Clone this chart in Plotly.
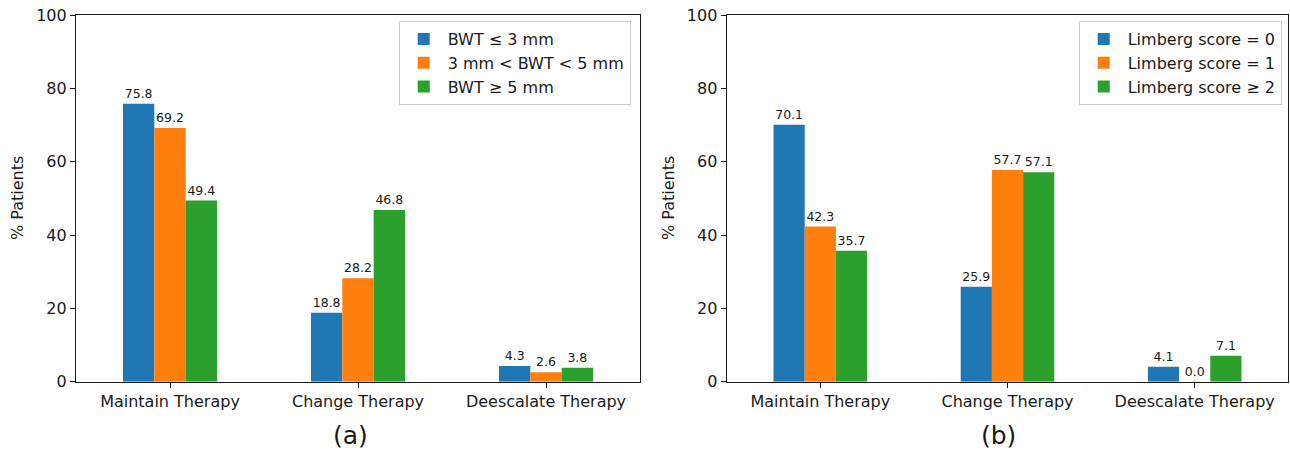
import plotly.graph_objects as go

categories = ["Maintain Therapy", "Change Therapy", "Deescalate Therapy"]

bwt_names = ["BWT ≤ 3 mm", "3 mm < BWT < 5 mm", "BWT ≥ 5 mm"]
bwt_le3 = [75.8, 18.8, 4.3]
bwt_3to5 = [69.2, 28.2, 2.6]
bwt_ge5 = [49.4, 46.8, 3.8]

limberg_names = ["Limberg score = 0", "Limberg score = 1", "Limberg score ≥ 2"]
limberg_0 = [70.1, 25.9, 4.1]
limberg_1 = [42.3, 57.7, 0.0]
limberg_ge2 = [35.7, 57.1, 7.1]

y_ticks = [0, 20, 40, 60, 80, 100]
colors = ["#1f77b4", "#ff7f0e", "#2ca02c"]

W, H = 1290, 452
FONT = "DejaVu Sans"
TXT = "#1a1a1a"

fig = go.Figure()

panels = [
    ("x", "y", "legend", bwt_names, [bwt_le3, bwt_3to5, bwt_ge5]),
    ("x2", "y2", "legend2", limberg_names, [limberg_0, limberg_1, limberg_ge2]),
]
for xa, ya, lg, names, series in panels:
    for i, (name, vals) in enumerate(zip(names, series)):
        fig.add_trace(go.Bar(
            x=list(range(len(categories))), y=vals, name=name,
            marker=dict(color=colors[i], line=dict(width=0)),
            xaxis=xa, yaxis=ya, legend=lg,
            legendgroup=f"{lg}_{i}",
            offsetgroup=str(i),
            text=[f"{v:.1f}" for v in vals],
            textposition="outside",
            textfont=dict(family=FONT, size=12.5, color=TXT),
            cliponaxis=False,
        ))

def px_x(p):
    return p / W

def px_y(p):
    return (H - p) / H

ydom = [px_y(381.7), px_y(15)]
axis_common = dict(
    showline=True, linecolor=TXT, linewidth=1.2, mirror=True,
    ticks="outside", ticklen=5, tickcolor=TXT, tickwidth=1.2,
    showgrid=False, zeroline=False,
    tickfont=dict(family=FONT, size=16, color=TXT),
)

legend_common = dict(
    xanchor="right", y=px_y(21), yanchor="top",
    bgcolor="rgba(255,255,255,0.8)", bordercolor="#cccccc", borderwidth=1,
    font=dict(family=FONT, size=16, color=TXT), tracegroupgap=3,
    traceorder="normal", itemwidth=38,
)

fig.update_layout(
    width=W, height=H,
    margin=dict(l=0, r=0, t=0, b=0),
    paper_bgcolor="white", plot_bgcolor="white",
    barmode="group", bargap=0.5, bargroupgap=0,
    showlegend=True,
    xaxis=dict(domain=[px_x(76), px_x(640)], range=[-0.5, 2.5],
               tickmode="array", tickvals=[0, 1, 2], ticktext=categories,
               anchor="y", automargin=False, **axis_common),
    yaxis=dict(domain=ydom, range=[0, 100], tickvals=y_ticks,
               anchor="x", automargin=False, **axis_common),
    xaxis2=dict(domain=[px_x(726.7), px_x(1288.3)], range=[-0.5, 2.5],
                tickmode="array", tickvals=[0, 1, 2], ticktext=categories,
                anchor="y2", automargin=False, **axis_common),
    yaxis2=dict(domain=ydom, range=[0, 100], tickvals=y_ticks,
                anchor="x2", automargin=False, **axis_common),
    legend=dict(x=px_x(630.7), **legend_common),
    legend2=dict(x=px_x(1281.7), **legend_common),
    annotations=[
        dict(text="% Patients", x=px_x(17), y=px_y(198), xref="paper", yref="paper",
             textangle=-90, showarrow=False, xanchor="center", yanchor="middle",
             font=dict(family=FONT, size=16, color=TXT)),
        dict(text="% Patients", x=px_x(668), y=px_y(198), xref="paper", yref="paper",
             textangle=-90, showarrow=False, xanchor="center", yanchor="middle",
             font=dict(family=FONT, size=16, color=TXT)),
        dict(text="(a)", x=px_x(350), y=px_y(435), xref="paper", yref="paper",
             showarrow=False, xanchor="center", yanchor="middle",
             font=dict(family=FONT, size=25, color=TXT)),
        dict(text="(b)", x=px_x(998), y=px_y(435), xref="paper", yref="paper",
             showarrow=False, xanchor="center", yanchor="middle",
             font=dict(family=FONT, size=25, color=TXT)),
    ],
)

fig.write_html(
    "out.html",
    config={"displayModeBar": False},
    post_script="document.body.style.margin='0';document.body.style.overflow='hidden';",
)
